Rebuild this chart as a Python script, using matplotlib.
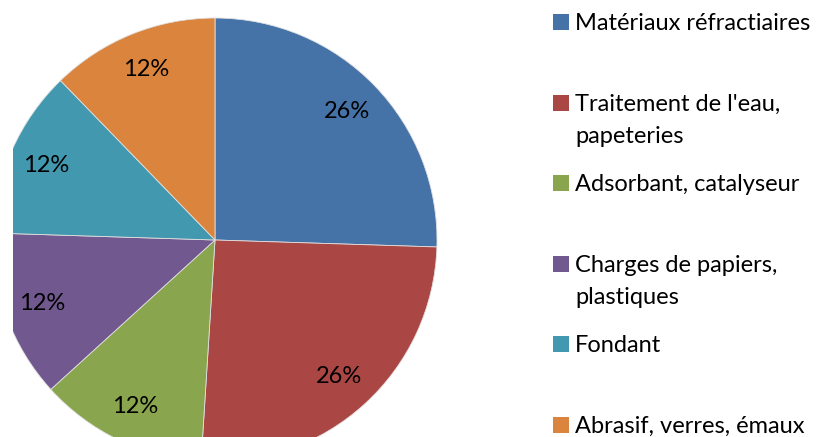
import matplotlib.pyplot as plt
from matplotlib.patches import Rectangle

labels = ["Matériaux réfractiaires", "Traitement de l'eau,\npapeteries",
          "Adsorbant, catalyseur", "Charges de papiers,\nplastiques",
          "Fondant", "Abrasif, verres, émaux"]
values = [25.5, 25.5, 12.25, 12.25, 12.25, 12.25]
colors = ["#4572A7", "#AA4643", "#89A54E", "#71588F", "#4198AF", "#DB843D"]

W, H = 822, 437
fig = plt.figure(figsize=(W / 100, H / 100), dpi=100)

# pie axes: clipped on the left at x=13 px, centre at (215, 240) px, radius 222 px
left, right = 13, 540
cx, cy, r = 215, H - 240, 222
ax = fig.add_axes([left / W, 0, (right - left) / W, 1])
wedges, texts, autotexts = ax.pie(values, colors=colors, startangle=90, counterclock=False,
                                  autopct='%.0f%%', pctdistance=0.83,
                                  wedgeprops=dict(edgecolor='#e0e0e0', linewidth=0.6),
                                  textprops=dict(fontsize=17, family='Lato', color='black'))
for w in wedges:
    w.set_clip_on(True)
ax.set_aspect('auto')
ax.set_xlim(-(cx - left) / r, (right - cx) / r)
ax.set_ylim(-cy / r, (H - cy) / r)
ax.axis('off')

# legend drawn by hand so the two-line entries keep the even spacing
for i, (lab, col) in enumerate(zip(labels, colors)):
    base = 30 + i * 80.6
    fig.patches.append(Rectangle((553 / W, 1 - (base) / H), 16 / W, 16 / H,
                                 transform=fig.transFigure, facecolor=col, edgecolor='none'))
    for j, line in enumerate(lab.split("\n")):
        fig.text(575 / W, 1 - (base + j * 32) / H, line, fontsize=17, family='Lato',
                 va='baseline', ha='left', color='black')

fig.savefig("out.png", dpi=100)
